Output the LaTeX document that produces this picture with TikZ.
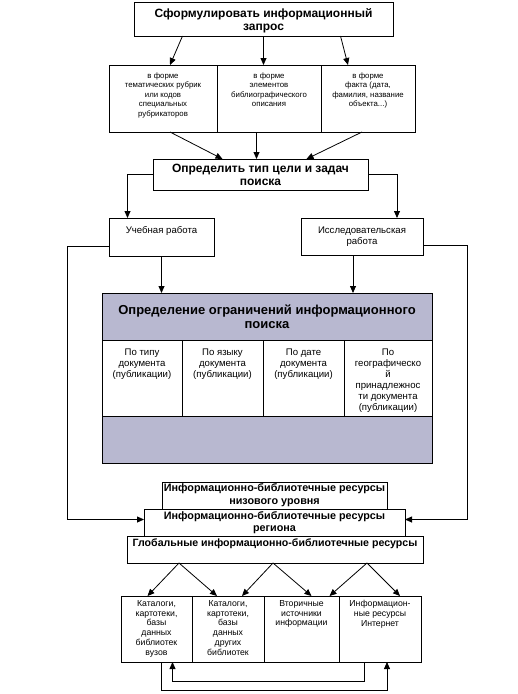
\documentclass[tikz,border=0pt]{standalone}
\usepackage{fontspec}
\setmainfont{Liberation Sans}
\usetikzlibrary{arrows.meta, positioning, calc}
\definecolor{lavender}{RGB}{184,184,208}

\begin{document}
\begin{tikzpicture}[x=1pt, y=-1pt, line width=0.8pt,
  box/.style={draw, fill=white, inner sep=0pt, outer sep=0pt, align=center, anchor=north west},
  bold/.style={box, font=\bfseries\fontsize{12}{12.5}\selectfont},
  cell/.style={box, minimum height=#1},
  tiny/.style={anchor=north, align=center, inner sep=0pt, font=\fontsize{7.8}{9.6}\selectfont},
  small/.style={anchor=north, align=center, inner sep=0pt, font=\fontsize{9.6}{11}\selectfont},
  srcfont/.style={anchor=north, align=center, inner sep=0pt, font=\fontsize{8.7}{9.8}\selectfont},
  arr/.style={-{Triangle[length=7pt, width=6pt]}}]

  \useasboundingbox (0,0) rectangle (518,694);

  % query and its forms
  \node[bold, minimum width=259pt, minimum height=34pt, text height=25pt] (query) at (134,2)
    {Сформулировать информационный\\запрос};
  \node[cell=67pt, minimum width=108pt,
    label={[tiny, yshift=-7pt]north:{в форме\\тематических рубрик\\или кодов\\специальных\\рубрикаторов}}]
    (form1) at (109,65) {};
  \node[cell=67pt, minimum width=104pt, right=0pt of form1,
    label={[tiny, yshift=-7pt]north:{в форме\\элементов\\библиографического\\описания}}] (form2) {};
  \node[cell=67pt, minimum width=94pt, right=0pt of form2,
    label={[tiny, yshift=-7pt]north:{в форме\\факта (дата,\\фамилия, название\\объекта...)}}] (form3) {};

  % goal of the search
  \node[bold, minimum width=215pt, minimum height=31pt, font=\bfseries\fontsize{12}{13}\selectfont]
    (goal) at (153,159) {Определить тип цели и задач\\поиска};
  \node[cell=38pt, minimum width=105pt,
    label={[small, yshift=-8pt]north:{Учебная работа}}] (study) at (109,218) {};
  \node[cell=37pt, minimum width=122pt,
    label={[small, yshift=-8pt]north:{Исследовательская\\работа}}] (research) at (301,218) {};

  % limits of the search
  \node[cell=47pt, minimum width=330pt, fill=lavender, font=\bfseries\fontsize{13}{14}\selectfont]
    (limits) at (102,293) {Определение ограничений информационного\\поиска};
  \node[cell=76pt, minimum width=80pt, below right=0pt and 0pt of limits.south west,
    label={[small, yshift=-8pt]north:{По типу\\документа\\(публикации)}}] (bytype) {};
  \node[cell=76pt, minimum width=81pt, right=0pt of bytype,
    label={[small, yshift=-8pt]north:{По языку\\документа\\(публикации)}}] (bylang) {};
  \node[cell=76pt, minimum width=81pt, right=0pt of bylang,
    label={[small, yshift=-8pt]north:{По дате\\документа\\(публикации)}}] (bydate) {};
  \node[cell=76pt, minimum width=88pt, right=0pt of bydate,
    label={[small, yshift=-8pt]north:{По\\географическо\\й\\принадлежнос\\ти документа\\(публикации)}}] (byplace) {};
  \node[cell=47pt, minimum width=330pt, fill=lavender, below right=0pt and 0pt of bytype.south west] (limitsbase) {};

  % resources
  \node[bold, minimum width=225pt, minimum height=27pt, font=\bfseries\fontsize{10.8}{13}\selectfont]
    (lowres) at (162,482) {Информационно-библиотечные ресурсы\\низового уровня};
  \node[bold, minimum width=261pt, minimum height=27pt, font=\bfseries\fontsize{10.8}{12}\selectfont]
    (regres) at (144,509) {Информационно-библиотечные ресурсы\\региона};
  \node[bold, minimum width=296pt, minimum height=27pt, text depth=14pt, font=\bfseries\fontsize{10.6}{12}\selectfont]
    (globres) at (127,536) {Глобальные информационно-библиотечные ресурсы};

  \node[cell=66pt, minimum width=71pt,
    label={[srcfont, yshift=-4pt]north:{Каталоги,\\картотеки,\\базы\\данных\\библиотек\\вузов}}] (src1) at (121,596) {};
  \node[cell=66pt, minimum width=72pt, right=0pt of src1,
    label={[srcfont, yshift=-4pt]north:{Каталоги,\\картотеки,\\базы\\данных\\других\\библиотек}}] (src2) {};
  \node[cell=66pt, minimum width=75pt, right=0pt of src2,
    label={[srcfont, yshift=-4pt]north:{Вторичные\\источники\\информации}}] (src3) {};
  \node[cell=66pt, minimum width=82pt, right=0pt of src3,
    label={[srcfont, yshift=-4pt]north:{Информацион-\\ные ресурсы\\Интернет}}] (src4) {};

  % arrows
  \draw[arr] ([xshift=-81pt]query.south) -- ([xshift=7pt]form1.north);
  \draw[arr] (query.south) -- (query.south |- form2.north);
  \draw[arr] ([xshift=77pt]query.south) -- ([xshift=-20pt]form3.north);
  \draw[arr] ([xshift=7pt]form1.south) -- ([xshift=-38pt]goal.north);
  \draw[arr] ([xshift=-4pt]goal.north |- form2.south) -- ([xshift=-4pt]goal.north);
  \draw[arr] ([xshift=-6pt]form3.south) -- ([xshift=46pt]goal.north);
  \draw[arr] (goal.west) -| ([xshift=-34pt]study.north);
  \draw[arr] (goal.east) -| ([xshift=35pt]research.north);
  \draw[arr] (study.south) -- (study.south |- limits.north);
  \draw[arr] ([xshift=-9pt]research.south) -- ([xshift=-9pt]research.south |- limits.north);
  \draw[arr] ([yshift=-9pt]study.west) -- ++(-42pt,0) |- ([yshift=3pt]regres.west);
  \draw[arr] ([yshift=-9pt]research.east) -- ++(44pt,0) |- ([yshift=3pt]regres.east);

  \draw[arr] ([xshift=-96pt]globres.south) -- ([xshift=-9pt]src1.north);
  \draw[arr] ([xshift=-96pt]globres.south) -- ([xshift=-11pt]src2.north);
  \draw[arr] ([xshift=-2pt]globres.south) -- ([xshift=14pt]src2.north);
  \draw[arr] ([xshift=-2pt]globres.south) -- ([xshift=10pt]src3.north);
  \draw[arr] ([xshift=92pt]globres.south) -- ([xshift=28pt]src3.north);
  \draw[arr] ([xshift=92pt]globres.south) -- ([xshift=20pt]src4.north);

  \draw[arr] ([xshift=-16pt]src4.south) -- ++(0,-19pt) -| ([xshift=16pt]src1.south);
  \draw[arr] ([xshift=5pt]src1.south) -- ++(0,-28pt) -| ([xshift=7pt]src4.south);
\end{tikzpicture}
\end{document}
